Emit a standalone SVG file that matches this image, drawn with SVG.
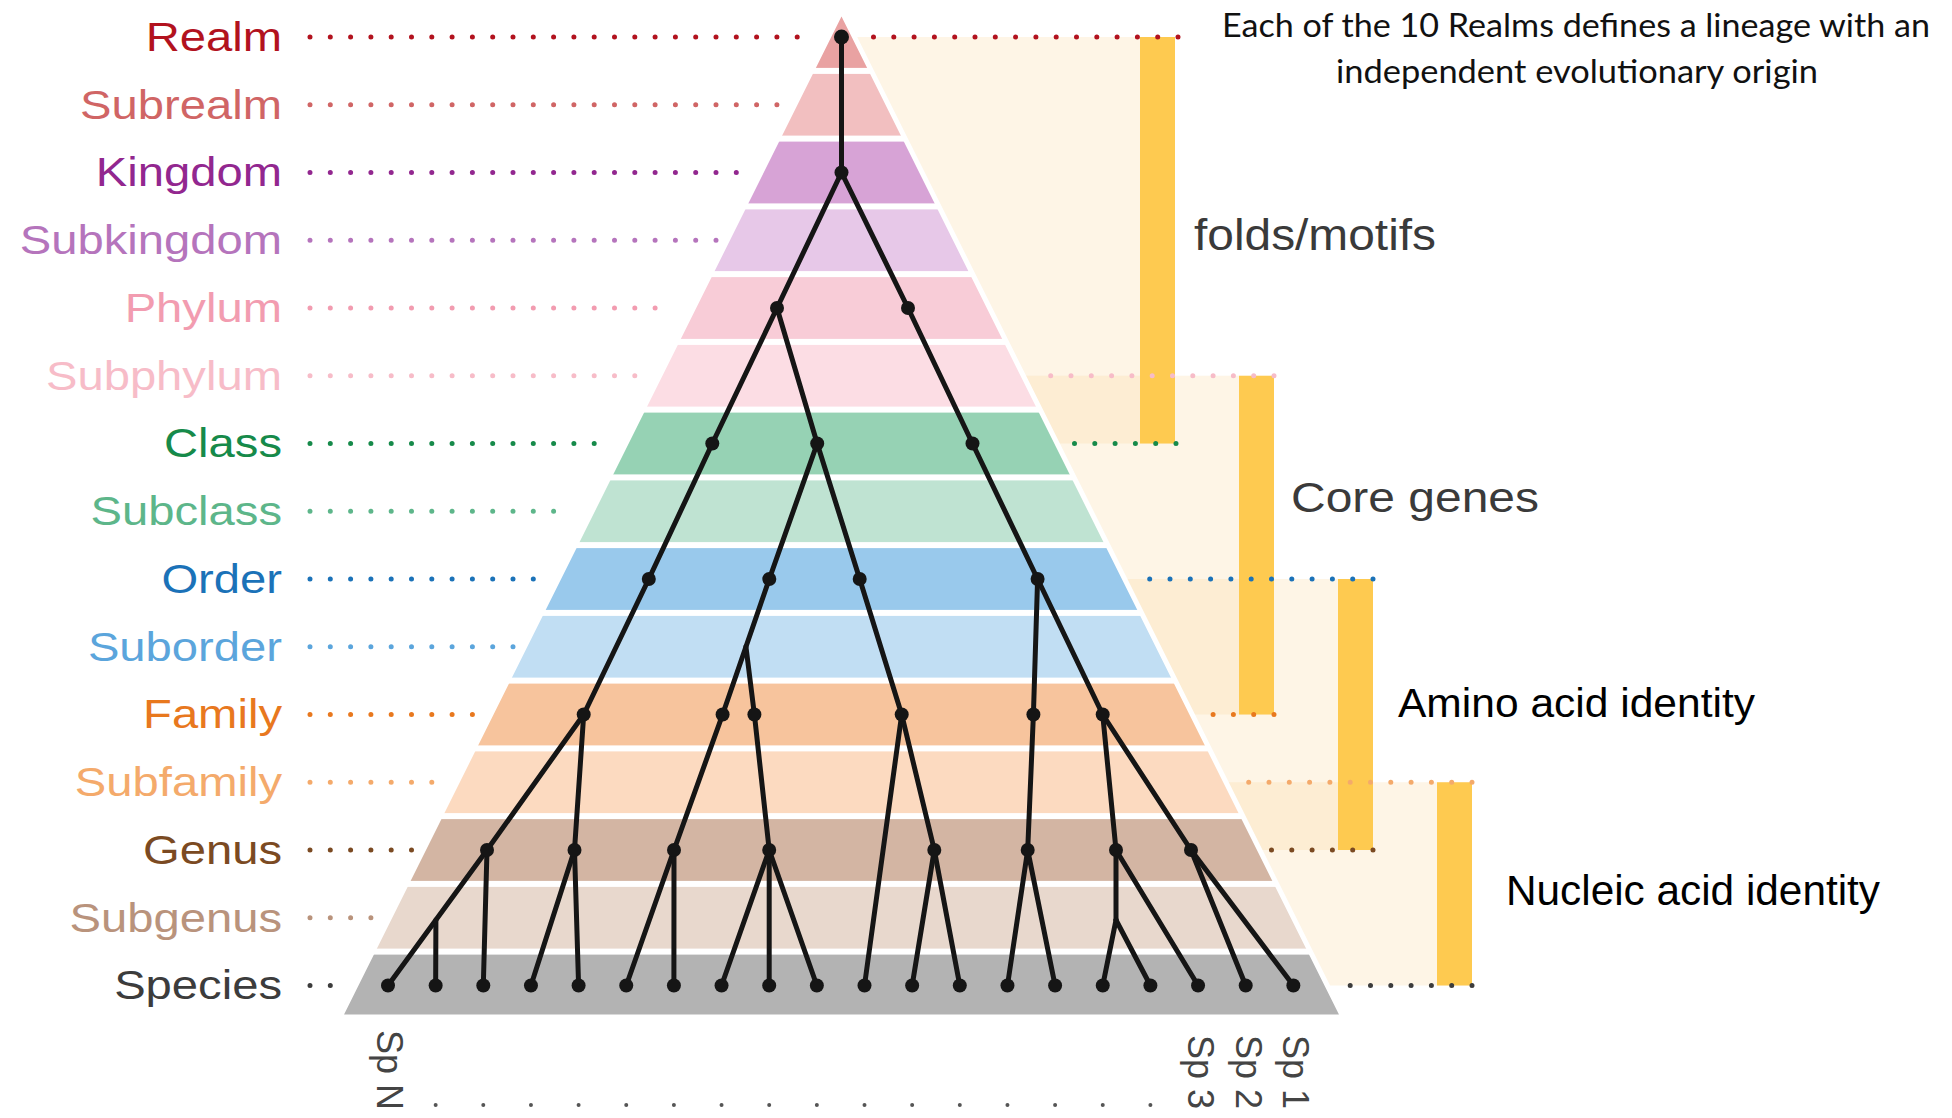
<svg xmlns="http://www.w3.org/2000/svg" width="1952" height="1118" viewBox="0 0 1952 1118">
<defs>
<style>
.lbl{font-family:"Liberation Sans",Arial,sans-serif;font-size:40px;text-anchor:end}
.dots{fill:none;stroke-width:5;stroke-linecap:round;stroke-dasharray:0 20.3}
.edge{stroke:#151515;stroke-width:5;stroke-linecap:round;fill:none}
.nd{fill:#151515}
.bar{fill:#FECA50}
.reg{fill:#FBD99A;fill-opacity:0.25}
.note{font-family:"Liberation Sans",Arial,sans-serif}
.head{font-family:Lato,"Liberation Sans",sans-serif;font-size:33px;fill:#111;text-anchor:middle}
.sp{font-family:"Liberation Sans",Arial,sans-serif;font-size:36px;fill:#444}
</style>
<clipPath id="tri"><polygon points="841.5,11 340,1017 1343,1017"/></clipPath>
</defs>
<rect width="1952" height="1118" fill="#fff"/>

<g id="ranges">
<polygon class="reg" points="854.5,37 1175,37 1175,443.5 1057.1,443.5"/>
<polygon class="reg" points="1023.3,375.75 1274,375.75 1274,714.5 1192.2,714.5"/>
<polygon class="reg" points="1124.7,579 1373,579 1373,850 1259.7,850"/>
<polygon class="reg" points="1226,782.25 1472,782.25 1472,985.5 1327.3,985.5"/>
<rect class="bar" x="1140" y="37" width="35" height="406.5"/>
<rect class="bar" x="1239" y="375.75" width="35" height="338.75"/>
<rect class="bar" x="1338" y="579" width="35" height="271"/>
<rect class="bar" x="1437" y="782.25" width="35" height="203.25"/>
</g>

<g id="dotted-lines">
<line class="dots" stroke="#B2121E" x1="310" y1="37" x2="817" y2="37"/>
<line class="dots" stroke="#D06565" x1="310" y1="104.75" x2="782" y2="104.75"/>
<line class="dots" stroke="#92278F" x1="310" y1="172.5" x2="739" y2="172.5"/>
<line class="dots" stroke="#B574BC" x1="310" y1="240.25" x2="717" y2="240.25"/>
<line class="dots" stroke="#F29CB0" x1="310" y1="308" x2="673" y2="308"/>
<line class="dots" stroke="#F7BCC8" x1="310" y1="375.75" x2="645" y2="375.75"/>
<line class="dots" stroke="#168A4A" x1="310" y1="443.5" x2="604" y2="443.5"/>
<line class="dots" stroke="#5DB68A" x1="310" y1="511.25" x2="567" y2="511.25"/>
<line class="dots" stroke="#1B72B8" x1="310" y1="579" x2="545" y2="579"/>
<line class="dots" stroke="#5BA5DC" x1="310" y1="646.75" x2="517" y2="646.75"/>
<line class="dots" stroke="#E8781E" x1="310" y1="714.5" x2="479" y2="714.5"/>
<line class="dots" stroke="#F4AA6B" x1="310" y1="782.25" x2="435" y2="782.25"/>
<line class="dots" stroke="#7B4A22" x1="310" y1="850" x2="413" y2="850"/>
<line class="dots" stroke="#B9937C" x1="310" y1="917.75" x2="373" y2="917.75"/>
<line class="dots" stroke="#3C3C3C" x1="310" y1="985.5" x2="332" y2="985.5"/>
<line class="dots" stroke="#B2121E" x1="1178" y1="37" x2="870" y2="37"/>
<line class="dots" stroke="#F7BCC8" x1="1274" y1="375.75" x2="1040" y2="375.75"/>
<line class="dots" stroke="#168A4A" x1="1176" y1="443.5" x2="1066" y2="443.5"/>
<line class="dots" stroke="#1B72B8" x1="1373" y1="579" x2="1136" y2="579"/>
<line class="dots" stroke="#E8781E" x1="1274" y1="714.5" x2="1206" y2="714.5"/>
<line class="dots" stroke="#F4AA6B" x1="1472" y1="782.25" x2="1236" y2="782.25"/>
<line class="dots" stroke="#7B4A22" x1="1373" y1="850" x2="1264" y2="850"/>
<line class="dots" stroke="#3C3C3C" x1="1472" y1="985.5" x2="1342" y2="985.5"/>
</g>

<g id="rank-labels" transform="translate(282,0) scale(1.18,1)">
<text class="lbl" x="0" y="51" fill="#B2121E">Realm</text>
<text class="lbl" x="0" y="118.75" fill="#D06565">Subrealm</text>
<text class="lbl" x="0" y="186.5" fill="#92278F">Kingdom</text>
<text class="lbl" x="0" y="254.25" fill="#B574BC">Subkingdom</text>
<text class="lbl" x="0" y="322" fill="#F29CB0">Phylum</text>
<text class="lbl" x="0" y="389.75" fill="#F7BCC8">Subphylum</text>
<text class="lbl" x="0" y="457.5" fill="#168A4A">Class</text>
<text class="lbl" x="0" y="525.25" fill="#5DB68A">Subclass</text>
<text class="lbl" x="0" y="593" fill="#1B72B8">Order</text>
<text class="lbl" x="0" y="660.75" fill="#5BA5DC">Suborder</text>
<text class="lbl" x="0" y="728.5" fill="#E8781E">Family</text>
<text class="lbl" x="0" y="796.25" fill="#F4AA6B">Subfamily</text>
<text class="lbl" x="0" y="864" fill="#7B4A22">Genus</text>
<text class="lbl" x="0" y="931.75" fill="#B9937C">Subgenus</text>
<text class="lbl" x="0" y="999.5" fill="#3C3C3C">Species</text>
</g>

<g id="pyramid">
<g clip-path="url(#tri)">
<rect x="340" y="11" width="1003" height="56.9" fill="#E9A2A2"/>
<rect x="340" y="73.9" width="1003" height="61.7" fill="#F2BFC0"/>
<rect x="340" y="141.6" width="1003" height="61.8" fill="#D7A3D6"/>
<rect x="340" y="209.4" width="1003" height="61.7" fill="#E7C8E8"/>
<rect x="340" y="277.1" width="1003" height="61.8" fill="#F8CCD7"/>
<rect x="340" y="344.9" width="1003" height="61.7" fill="#FCDDE4"/>
<rect x="340" y="412.6" width="1003" height="61.8" fill="#96D2B4"/>
<rect x="340" y="480.4" width="1003" height="61.7" fill="#BFE3D2"/>
<rect x="340" y="548.1" width="1003" height="61.8" fill="#99C9EC"/>
<rect x="340" y="615.9" width="1003" height="61.7" fill="#C1DEF3"/>
<rect x="340" y="683.6" width="1003" height="61.8" fill="#F7C49D"/>
<rect x="340" y="751.4" width="1003" height="61.7" fill="#FCDAC0"/>
<rect x="340" y="819.1" width="1003" height="61.8" fill="#D3B5A3"/>
<rect x="340" y="886.9" width="1003" height="61.7" fill="#E8D8CD"/>
<rect x="340" y="954.6" width="1003" height="62.4" fill="#B3B3B3"/>
</g>
<polygon points="841.5,11 340,1017 1343,1017" fill="none" stroke="#fff" stroke-width="5"/>
</g>

<g id="connectors" class="edge">
<line x1="841.5" y1="37" x2="841.5" y2="172.5"/>
<line x1="841.5" y1="172.5" x2="777" y2="308"/>
<line x1="841.5" y1="172.5" x2="908" y2="308"/>
<line x1="777" y1="308" x2="712.3" y2="443.5"/>
<line x1="777" y1="308" x2="817.2" y2="443.5"/>
<line x1="908" y1="308" x2="972.5" y2="443.5"/>
<line x1="712.3" y1="443.5" x2="648.8" y2="579"/>
<line x1="817.2" y1="443.5" x2="769.3" y2="579"/>
<line x1="817.2" y1="443.5" x2="859.7" y2="579"/>
<line x1="972.5" y1="443.5" x2="1037.6" y2="579"/>
<line x1="648.8" y1="579" x2="583.7" y2="714.5"/>
<line x1="769.3" y1="579" x2="722.6" y2="714.5"/>
<line x1="745.95" y1="646.75" x2="754.4" y2="714.5"/>
<line x1="859.7" y1="579" x2="901.7" y2="714.5"/>
<line x1="1037.6" y1="579" x2="1033.4" y2="714.5"/>
<line x1="1037.6" y1="579" x2="1102.7" y2="714.5"/>
<line x1="583.7" y1="714.5" x2="487" y2="850"/>
<line x1="583.7" y1="714.5" x2="574.5" y2="850"/>
<line x1="722.6" y1="714.5" x2="674" y2="850"/>
<line x1="754.4" y1="714.5" x2="769.2" y2="850"/>
<line x1="901.7" y1="714.5" x2="864.5" y2="985.5"/>
<line x1="901.7" y1="714.5" x2="934.3" y2="850"/>
<line x1="1033.4" y1="714.5" x2="1027.7" y2="850"/>
<line x1="1102.7" y1="714.5" x2="1116" y2="850"/>
<line x1="1102.7" y1="714.5" x2="1191" y2="850"/>
<line x1="487" y1="850" x2="388" y2="985.5"/>
<line x1="435.9" y1="920" x2="435.65" y2="985.5"/>
<line x1="487" y1="850" x2="483.3" y2="985.5"/>
<line x1="574.5" y1="850" x2="530.95" y2="985.5"/>
<line x1="574.5" y1="850" x2="578.6" y2="985.5"/>
<line x1="674" y1="850" x2="626.25" y2="985.5"/>
<line x1="674" y1="850" x2="673.9" y2="985.5"/>
<line x1="769.2" y1="850" x2="721.55" y2="985.5"/>
<line x1="769.2" y1="850" x2="769.2" y2="985.5"/>
<line x1="769.2" y1="850" x2="816.85" y2="985.5"/>
<line x1="934.3" y1="850" x2="912.15" y2="985.5"/>
<line x1="934.3" y1="850" x2="959.8" y2="985.5"/>
<line x1="1027.7" y1="850" x2="1007.45" y2="985.5"/>
<line x1="1027.7" y1="850" x2="1055.1" y2="985.5"/>
<line x1="1116" y1="850" x2="1116" y2="920"/>
<line x1="1116" y1="920" x2="1102.75" y2="985.5"/>
<line x1="1116" y1="920" x2="1150.4" y2="985.5"/>
<line x1="1116" y1="850" x2="1198.05" y2="985.5"/>
<line x1="1191" y1="850" x2="1245.7" y2="985.5"/>
<line x1="1191" y1="850" x2="1293.35" y2="985.5"/>
</g>

<g id="tree-nodes" class="nd">
<g id="n-realm"><circle cx="841.5" cy="37" r="7.5"/></g>
<g id="n-kingdom"><circle cx="841.5" cy="172.5" r="7"/></g>
<g id="n-phylum-1"><circle cx="777" cy="308" r="7"/></g>
<g id="n-phylum-2"><circle cx="908" cy="308" r="7"/></g>
<g id="n-class-1"><circle cx="712.3" cy="443.5" r="7"/></g>
<g id="n-class-2"><circle cx="817.2" cy="443.5" r="7"/></g>
<g id="n-class-3"><circle cx="972.5" cy="443.5" r="7"/></g>
<g id="n-order-1"><circle cx="648.8" cy="579" r="7"/></g>
<g id="n-order-2"><circle cx="769.3" cy="579" r="7"/></g>
<g id="n-order-3"><circle cx="859.7" cy="579" r="7"/></g>
<g id="n-order-4"><circle cx="1037.6" cy="579" r="7"/></g>
<g id="n-family-1"><circle cx="583.7" cy="714.5" r="7"/></g>
<g id="n-family-2"><circle cx="722.6" cy="714.5" r="7"/></g>
<g id="n-family-3"><circle cx="754.4" cy="714.5" r="7"/></g>
<g id="n-family-4"><circle cx="901.7" cy="714.5" r="7"/></g>
<g id="n-family-5"><circle cx="1033.4" cy="714.5" r="7"/></g>
<g id="n-family-6"><circle cx="1102.7" cy="714.5" r="7"/></g>
<g id="n-genus-1"><circle cx="487" cy="850" r="7"/></g>
<g id="n-genus-2"><circle cx="574.5" cy="850" r="7"/></g>
<g id="n-genus-3"><circle cx="674" cy="850" r="7"/></g>
<g id="n-genus-4"><circle cx="769.2" cy="850" r="7"/></g>
<g id="n-genus-5"><circle cx="934.3" cy="850" r="7"/></g>
<g id="n-genus-6"><circle cx="1027.7" cy="850" r="7"/></g>
<g id="n-genus-7"><circle cx="1116" cy="850" r="7"/></g>
<g id="n-genus-8"><circle cx="1191" cy="850" r="7"/></g>
<g id="n-species">
<circle cx="388" cy="985.5" r="7"/><circle cx="435.65" cy="985.5" r="7"/><circle cx="483.3" cy="985.5" r="7"/><circle cx="530.95" cy="985.5" r="7"/><circle cx="578.6" cy="985.5" r="7"/><circle cx="626.25" cy="985.5" r="7"/><circle cx="673.9" cy="985.5" r="7"/><circle cx="721.55" cy="985.5" r="7"/><circle cx="769.2" cy="985.5" r="7"/><circle cx="816.85" cy="985.5" r="7"/><circle cx="864.5" cy="985.5" r="7"/><circle cx="912.15" cy="985.5" r="7"/><circle cx="959.8" cy="985.5" r="7"/><circle cx="1007.45" cy="985.5" r="7"/><circle cx="1055.1" cy="985.5" r="7"/><circle cx="1102.75" cy="985.5" r="7"/><circle cx="1150.4" cy="985.5" r="7"/><circle cx="1198.05" cy="985.5" r="7"/><circle cx="1245.7" cy="985.5" r="7"/><circle cx="1293.35" cy="985.5" r="7"/>
</g>
</g>

<g id="species-labels">
<text class="sp" transform="translate(377,1030) rotate(90)">Sp N</text>
<text class="sp" transform="translate(1188,1035) rotate(90)">Sp 3</text>
<text class="sp" transform="translate(1236,1035) rotate(90)">Sp 2</text>
<text class="sp" transform="translate(1283,1035) rotate(90)">Sp 1</text>
<line x1="435.65" y1="1105" x2="1151" y2="1105" stroke="#555" stroke-width="4" stroke-linecap="round" stroke-dasharray="0 47.65"/>
</g>

<g id="annotations">
<text class="head" x="1576" y="37" textLength="708" lengthAdjust="spacingAndGlyphs">Each of the 10 Realms defines a lineage with an</text>
<text class="head" x="1577" y="83" textLength="482" lengthAdjust="spacingAndGlyphs">independent evolutionary origin</text>
<text class="note" x="1194" y="250" font-size="45" fill="#3a3a3a" textLength="242" lengthAdjust="spacingAndGlyphs">folds/motifs</text>
<text class="note" x="1291" y="512" font-size="43" fill="#3a3a3a" textLength="248" lengthAdjust="spacingAndGlyphs">Core genes</text>
<text class="note" x="1398" y="717" font-size="41" fill="#000" textLength="357" lengthAdjust="spacingAndGlyphs">Amino acid identity</text>
<text class="note" x="1506" y="905" font-size="42" fill="#000" textLength="374" lengthAdjust="spacingAndGlyphs">Nucleic acid identity</text>
</g>
</svg>
